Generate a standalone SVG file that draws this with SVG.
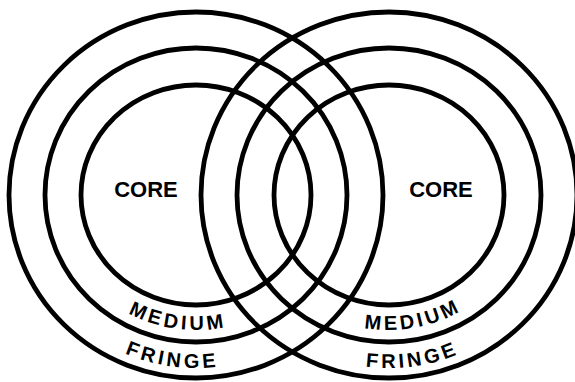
<svg xmlns="http://www.w3.org/2000/svg" xmlns:xlink="http://www.w3.org/1999/xlink" width="575" height="382" viewBox="0 0 575 382">
<style>
.ring{fill:none;stroke:#000;stroke-width:4.8}
.core{font-family:"Liberation Sans",Arial,sans-serif;font-weight:bold;font-size:22px;fill:#000;text-anchor:middle}
.arc{font-family:"Liberation Sans",Arial,sans-serif;font-weight:bold;font-size:20px;fill:#000;text-anchor:middle;letter-spacing:3.5px}
</style>
<defs>
<path id="lm" d="M 56 195 A 140 135 0 0 0 336 195"/>
<path id="lf" d="M 19 195 A 177 173 0 0 0 373 195"/>
<path id="rm" d="M 249 195 A 140 135 0 0 0 529 195"/>
<path id="rf" d="M 212 195 A 177 173 0 0 0 566 195"/>
</defs>
<rect width="575" height="382" fill="#fff"/>
<g id="left-set">
<ellipse class="ring" cx="196" cy="195" rx="187" ry="183"/>
<ellipse class="ring" cx="196" cy="195" rx="151" ry="147"/>
<ellipse class="ring" cx="196" cy="195" rx="115" ry="110"/>
<text class="core" x="146" y="197">CORE</text>
<text class="arc"><textPath xlink:href="#lm" startOffset="45.5%">MEDIUM</textPath></text>
<text class="arc"><textPath xlink:href="#lf" startOffset="45.5%">FRINGE</textPath></text>
</g>
<g id="right-set">
<ellipse class="ring" cx="389" cy="195" rx="188" ry="183"/>
<ellipse class="ring" cx="389" cy="195" rx="152" ry="147"/>
<ellipse class="ring" cx="389" cy="195" rx="115" ry="110"/>
<text class="core" x="441" y="197">CORE</text>
<text class="arc"><textPath xlink:href="#rm" startOffset="56%">MEDIUM</textPath></text>
<text class="arc"><textPath xlink:href="#rf" startOffset="54.5%">FRINGE</textPath></text>
</g>
<g id="connectors"/>
</svg>
